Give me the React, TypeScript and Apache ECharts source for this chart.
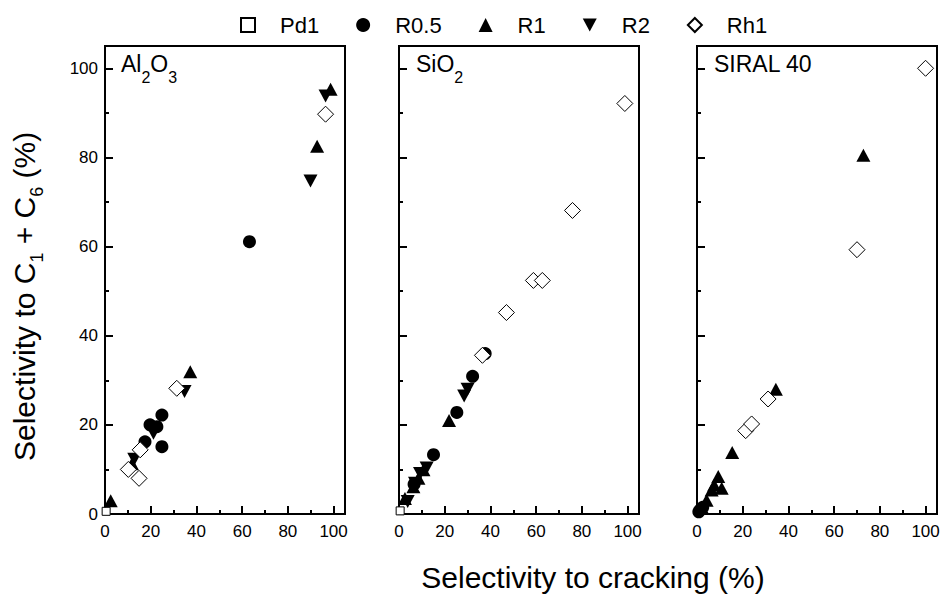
import React, { useEffect, useRef } from 'react';
import * as echarts from 'echarts';

const legendNames = ['Pd1', 'R0.5', 'R1', 'R2', 'Rh1'];
const xTickMax = 105;
const yTickMax = 105;

// Panel 1: Al2O3
const alPd1 = [[0.5, 0.6]];
const alR05 = [[17.5, 16.2], [19.7, 20.0], [22.7, 19.6], [24.9, 22.2], [24.9, 15.1], [63.2, 61.1]];
const alR1 = [[2.5, 3.0], [11.8, 11.3], [37.3, 31.9], [92.8, 82.5], [98.7, 95.3]];
const alR2 = [[12.8, 12.3], [21.2, 18.1], [34.8, 27.5], [89.9, 74.7], [96.5, 93.8]];
const alRh1 = [[10.2, 10.0], [14.9, 8.0], [15.4, 14.4], [31.4, 28.2], [96.5, 89.7]];

// Panel 2: SiO2
const siPd1 = [[0.5, 0.7]];
const siR05 = [[6.6, 6.7], [15.1, 13.3], [25.3, 22.8], [32.2, 30.9], [37.7, 36.0]];
const siR1 = [[2.6, 3.5], [6.3, 6.1], [8.5, 8.0], [10.7, 9.9], [21.9, 21.0]];
const siR2 = [[3.8, 2.8], [7.0, 6.9], [9.2, 9.1], [12.1, 10.3], [28.5, 26.5], [30.0, 28.0]];
const siRh1 = [[36.5, 35.6], [47.0, 45.2], [58.8, 52.4], [62.7, 52.4], [75.9, 68.1], [98.8, 92.1]];

// Panel 3: SIRAL 40
const srR05 = [[0.8, 0.5], [1.5, 1.0], [2.5, 1.5]];
const srR1 = [[2.1, 1.5], [4.2, 3.1], [6.4, 5.4], [7.5, 6.5], [9.3, 8.4], [10.8, 5.8], [15.4, 13.8], [34.5, 28.0], [72.8, 80.5]];
const srRh1 = [[21.3, 18.7], [23.9, 20.2], [31.1, 25.8], [70.0, 59.3], [100.0, 100.0]];

const panelData = [
  { Pd1: alPd1, 'R0.5': alR05, R1: alR1, R2: alR2, Rh1: alRh1 },
  { Pd1: siPd1, 'R0.5': siR05, R1: siR1, R2: siR2, Rh1: siRh1 },
  { Pd1: [], 'R0.5': srR05, R1: srR1, R2: [], Rh1: srRh1 },
];

const FONT = 'Liberation Sans, Arial, Helvetica, sans-serif';

const symbolStyle: Record<string, any> = {
  Pd1: { symbol: 'rect', symbolSize: 8, itemStyle: { color: '#fff', borderColor: '#000', borderWidth: 1, opacity: 1 }, z: 5 },
  'R0.5': { symbol: 'circle', symbolSize: 13, itemStyle: { color: '#000', borderColor: '#000', borderWidth: 0, opacity: 1 }, z: 2 },
  R1: { symbol: 'triangle', symbolSize: [14, 13], itemStyle: { color: '#000', borderColor: '#000', borderWidth: 0, opacity: 1 }, z: 2 },
  R2: { symbol: 'path://M0,0L14,0L7,13Z', symbolSize: [14, 13], itemStyle: { color: '#000', borderColor: '#000', borderWidth: 0, opacity: 1 }, z: 2 },
  Rh1: { symbol: 'diamond', symbolSize: [16, 16], itemStyle: { color: '#fff', borderColor: '#000', borderWidth: 1, opacity: 1 }, z: 4 },
};

const gridLefts = [105, 399, 697];

export default function App() {
  const ref = useRef<HTMLDivElement>(null);
  useEffect(() => {
    if (!ref.current) return;
    document.body.style.margin = '0';
    const chart = echarts.init(ref.current, undefined, { renderer: 'svg' });

    const grids = gridLefts.map((left) => ({
      left, top: 46, width: 240, height: 468,
      show: true, borderColor: '#000', borderWidth: 2, backgroundColor: 'transparent',
    }));

    const xAxes = gridLefts.map((_, i) => ({
      type: 'value', gridIndex: i, min: 0, max: xTickMax, interval: 20,
      axisLine: { show: true, onZero: false, lineStyle: { color: '#000', width: 2 } },
      axisTick: { show: true, inside: true, length: 8, lineStyle: { color: '#000', width: 2 } },
      minorTick: { show: true, splitNumber: 2, length: 4, lineStyle: { color: '#000', width: 2 } },
      splitLine: { show: false },
      axisLabel: {
        show: true, fontSize: 17, color: '#000', fontFamily: FONT, margin: 9,
        showMaxLabel: false,
        formatter: (v: number) => (v % 20 === 0 && v <= 100 ? String(v) : ''),
      },
    }));

    const yAxes = gridLefts.map((_, i) => ({
      type: 'value', gridIndex: i, min: 0, max: yTickMax, interval: 20,
      axisLine: { show: true, onZero: false, lineStyle: { color: '#000', width: 2 } },
      axisTick: { show: true, inside: true, length: 8, lineStyle: { color: '#000', width: 2 } },
      minorTick: { show: true, splitNumber: 2, length: 4, lineStyle: { color: '#000', width: 2 } },
      splitLine: { show: false },
      axisLabel: {
        show: i === 0, fontSize: 17, color: '#000', fontFamily: FONT, margin: 7,
        showMaxLabel: false,
        formatter: (v: number) => (v % 20 === 0 && v <= 100 ? String(v) : ''),
      },
    }));

    const series: any[] = [];
    panelData.forEach((pd: any, i) => {
      legendNames.forEach((name) => {
        const st = symbolStyle[name];
        series.push({
          type: 'scatter', name, data: pd[name], xAxisIndex: i, yAxisIndex: i,
          symbol: st.symbol, symbolSize: st.symbolSize, itemStyle: st.itemStyle, z: st.z,
          clip: false, emphasis: { disabled: true },
        });
      });
    });

    const big = { fontSize: 23, verticalAlign: 'top', fontFamily: FONT, fill: '#000' };
    const sub = { fontSize: 16, verticalAlign: 'top', padding: [17, 0, 0, 0], fontFamily: FONT, fill: '#000' };
    const yBig = { fontSize: 30, verticalAlign: 'top', fontFamily: FONT, fill: '#000' };
    const ySub = { fontSize: 18, verticalAlign: 'top', padding: [19, 0, 0, 0], fontFamily: FONT, fill: '#000' };

    chart.setOption({
      animation: false,
      backgroundColor: '#fff',
      legend: {
        data: legendNames,
        left: 235, top: 9,
        itemWidth: 14, itemHeight: 14, itemGap: 37,
        textStyle: { fontSize: 22, color: '#000', fontFamily: FONT, padding: [0, 0, 0, 20] },
        selectedMode: false,
      },
      grid: grids,
      xAxis: xAxes,
      yAxis: yAxes,
      series,
      graphic: [
        {
          type: 'text', left: 121, top: 52,
          style: { text: '{b|Al}{s|2}{b|O}{s|3}', rich: { b: big, s: sub } },
        },
        {
          type: 'text', left: 416, top: 52,
          style: { text: '{b|SiO}{s|2}', rich: { b: big, s: sub } },
        },
        {
          type: 'text', left: 714, top: 52,
          style: { text: '{b|SIRAL 40}', rich: { b: big } },
        },
        {
          type: 'text', x: 593, y: 577,
          style: { text: 'Selectivity to cracking (%)', fontSize: 30, fontFamily: FONT, fill: '#000', align: 'center', verticalAlign: 'middle' },
        },
        {
          type: 'text', x: 9, y: 461, rotation: Math.PI / 2,
          style: {
            text: '{b|Selectivity to C}{s|1}{b| + C}{s|6}{b| (%)}',
            rich: { b: yBig, s: ySub },
            align: 'left', verticalAlign: 'top',
          },
        },
      ],
    });
    return () => chart.dispose();
  }, []);
  return <div ref={ref} style={{ width: 946, height: 594 }} />;
}
